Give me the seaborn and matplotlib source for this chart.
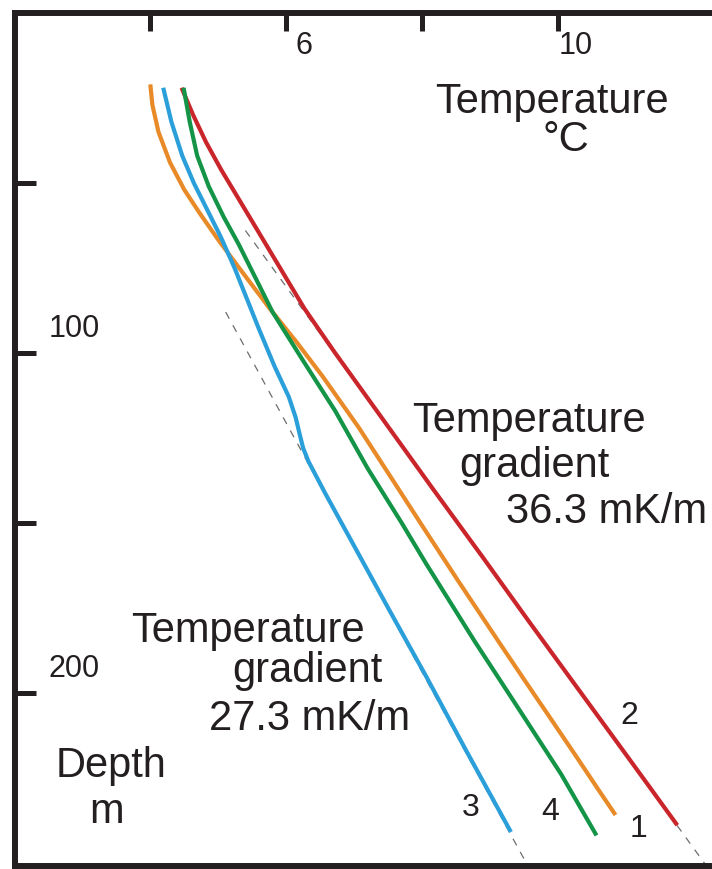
import numpy as np
import pandas as pd
import matplotlib.pyplot as plt
import seaborn as sns

sns.set_style('white')
plt.rcParams['font.family'] = ['Liberation Sans', 'DejaVu Sans']

# temperature-depth logs (depth in m, temperature in degC)
depth_1 = [21, 27, 35, 44, 52, 59, 67, 74, 87, 97, 107, 122, 139, 152, 167, 185, 196, 206, 219, 228, 236]
temp_1 = [4.00, 4.03, 4.12, 4.29, 4.50, 4.73, 5.01, 5.27, 5.76, 6.16, 6.54, 7.07, 7.62, 8.04, 8.53, 9.13, 9.50, 9.84, 10.28, 10.58, 10.85]

depth_2 = [22, 30, 38, 46, 54, 62, 70, 78, 87, 100, 120, 140, 160, 180, 200, 220, 239]
temp_2 = [4.46, 4.63, 4.82, 5.04, 5.28, 5.52, 5.76, 6.00, 6.27, 6.72, 7.44, 8.16, 8.89, 9.61, 10.34, 11.07, 11.76]

depth_3 = [22, 32, 42, 50, 58, 66, 75, 84, 93, 104, 113, 119, 124, 128, 132, 141.5, 157.5, 175, 195.5, 217, 241]
temp_3 = [4.19, 4.31, 4.47, 4.64, 4.84, 5.04, 5.24, 5.42, 5.60, 5.83, 6.04, 6.14, 6.20, 6.25, 6.33, 6.58, 7.02, 7.50, 8.07, 8.65, 9.31]

depth_4 = [22, 32, 42, 51, 60, 68, 76, 88, 102, 117, 134, 150, 162, 185, 204, 224, 242]
temp_4 = [4.49, 4.58, 4.69, 4.86, 5.08, 5.30, 5.50, 5.80, 6.24, 6.72, 7.20, 7.70, 8.06, 8.78, 9.40, 10.05, 10.57]

# fitted gradient lines (36.3 and 27.3 mK/m)
fit_hi_depth = [64, 251]
fit_hi_temp = [5.40, 12.19]
fit_lo_depth = [88, 251]
fit_lo_temp = [5.11, 9.56]

curve_names = ['1', '2', '3', '4']
curve_colors = ['#E98A28', '#C9252B', '#2A9FDA', '#139447']

# label positions of the curve numbers (temp, depth)
num_temp = [11.19, 11.06, 8.71, 9.89]
num_depth = [240, 207, 234, 235]

x_ticks = [4, 6, 8, 10]
x_tick_text = ['', '6', '', '10']
y_ticks = [50, 100, 150, 200]
y_tick_text = ['', '100', '', '200']

frames = []
for name, d, t in zip(curve_names, [depth_1, depth_2, depth_3, depth_4],
                      [temp_1, temp_2, temp_3, temp_4]):
    frames.append(pd.DataFrame({'curve': name, 'depth': d, 'temp': t}))
df = pd.concat(frames, ignore_index=True)

fig = plt.figure(figsize=(7.12, 8.69), dpi=100)
ax = fig.add_axes([14.5 / 712, 3 / 869, (716 - 14.5) / 712, (866 - 13) / 869])

ink = '#231f20'

# dashed gradient lines under the logs
ax.plot(fit_hi_temp, fit_hi_depth, color='#6d6d6d', lw=0.9, dashes=(6, 6), zorder=1)
ax.plot(fit_lo_temp, fit_lo_depth, color='#6d6d6d', lw=0.9, dashes=(6, 6), zorder=1)

sns.lineplot(data=df, x='temp', y='depth', hue='curve', palette=curve_colors,
             sort=False, estimator=None, legend=False, lw=3.0, ax=ax, zorder=2,
             solid_joinstyle='round', solid_capstyle='butt')

ax.set_xlim(2, 12.33)
ax.set_ylim(251, 0)
ax.set_xlabel('')
ax.set_ylabel('')

ax.set_xticks(x_ticks)
ax.set_yticks(y_ticks)
ax.tick_params(axis='x', bottom=False, top=True, direction='in', length=13, width=3.6,
               color=ink, labelbottom=False, labeltop=False)
ax.tick_params(axis='y', left=True, right=False, direction='in', length=15, width=3.6,
               color=ink, labelleft=False)
for s in ax.spines.values():
    s.set_linewidth(4.3)
    s.set_color(ink)

for v, s in zip(x_ticks, x_tick_text):
    if s:
        ax.annotate(s, xy=(v, 0), xytext=(13, -24), textcoords='offset points',
                    ha='center', va='center', fontsize=22, color=ink)
for v, s in zip(y_ticks, y_tick_text):
    if s:
        ax.annotate(s, xy=(2, v), xytext=(43, 17), textcoords='offset points',
                    ha='center', va='center', fontsize=22, color=ink)

for name, t, d in zip(curve_names, num_temp, num_depth):
    ax.text(t, d, name, ha='center', va='center', fontsize=23, color=ink)

big = 30
ax.text(9.92, 29.5, 'Temperature', ha='center', va='baseline', fontsize=big, color=ink)
ax.text(10.12, 40.5, '°C', ha='center', va='baseline', fontsize=big, color=ink)

ax.text(7.86, 123.2, 'Temperature', ha='left', va='baseline', fontsize=big, color=ink)
ax.text(8.55, 136.5, 'gradient', ha='left', va='baseline', fontsize=big, color=ink)
ax.text(9.24, 150, '36.3 mK/m', ha='left', va='baseline', fontsize=big, color=ink)

ax.text(3.72, 185, 'Temperature', ha='left', va='baseline', fontsize=big, color=ink)
ax.text(5.20, 197, 'gradient', ha='left', va='baseline', fontsize=big, color=ink)
ax.text(4.86, 211, '27.3 mK/m', ha='left', va='baseline', fontsize=big, color=ink)

ax.text(3.42, 224.7, 'Depth', ha='center', va='baseline', fontsize=big, color=ink)
ax.text(3.36, 238.2, 'm', ha='center', va='baseline', fontsize=big, color=ink)

fig.savefig('out.png', dpi=100)
